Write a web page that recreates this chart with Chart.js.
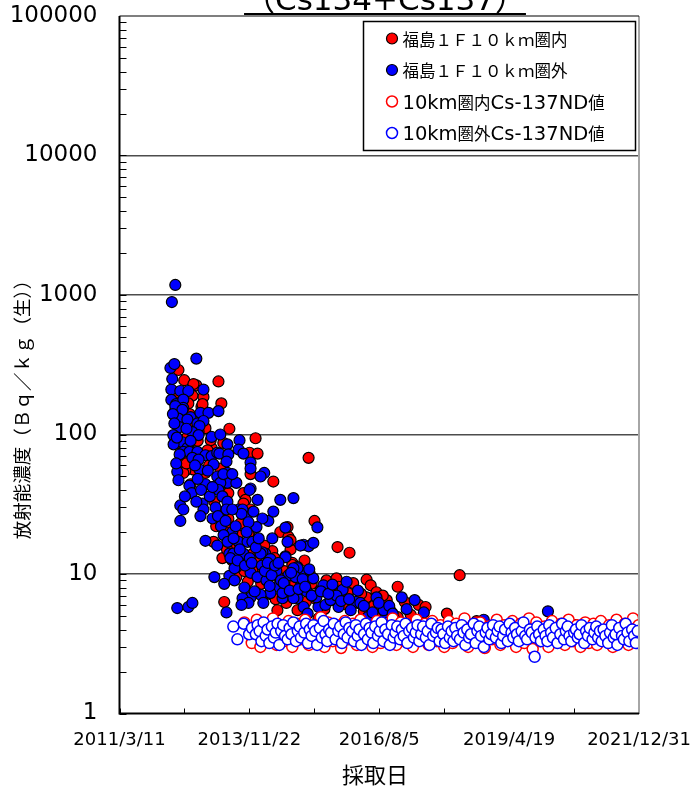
<!DOCTYPE html>
<html lang="ja">
<head>
<meta charset="utf-8">
<title>放射能濃度</title>
<script src="https://cdn.jsdelivr.net/npm/chart.js@4.4.0/dist/chart.umd.min.js"></script>
<style>
  html, body { margin: 0; padding: 0; background: #fff; }
  #chart { display: block; }
</style>
</head>
<body>
<canvas id="chart" width="692" height="790"></canvas>
<script>
// 軸の目盛り
const xTickDates = ['2011-03-11', '2013-11-22', '2016-08-05', '2019-04-19', '2021-12-31'];
const xTickLabels = ['2011/3/11', '2013/11/22', '2016/8/5', '2019/4/19', '2021/12/31'];
const yTickValues = [1, 10, 100, 1000, 10000, 100000];
const seriesLabels = ['福島１Ｆ１０ｋｍ圏内', '福島１Ｆ１０ｋｍ圏外', '10km圏内Cs-137ND値', '10km圏外Cs-137ND値'];

// 10km圏内 (検出値) [採取日, Bq/kg]
const inner10km = [
  ['2012-06-01',290],['2012-07-15',245],['2013-04-01',240],['2012-10-15',225],['2012-09-23',230],
  ['2012-12-08',186],['2012-09-15',190],['2012-08-15',167],['2012-11-23',158],['2013-04-23',167],
  ['2012-07-08',192],['2012-06-15',170],['2012-05-08',150],['2012-12-01',165],
  ['2012-12-23',111],['2013-06-23',110],['2014-01-08',94],['2013-05-08',87],['2013-02-08',80],
  ['2013-11-23',74],['2014-01-23',73],['2012-07-08',66],['2012-09-23',56],['2012-12-23',53],
  ['2012-09-15',75],['2012-08-08',96],['2012-11-01',105],['2013-02-01',91],['2013-01-08',77],
  ['2012-07-23',55],['2012-07-08',53],['2013-10-08',38],['2013-10-23',34],['2013-05-08',45],
  ['2013-04-15',57],['2014-05-23',46],['2015-02-15',68],['2013-12-01',52],['2013-06-15',38],
  ['2013-10-08',32],['2013-12-01',29],['2013-06-15',25],['2013-07-01',21],['2015-04-01',24],
  ['2015-09-23',15.6],['2015-12-23',14.2],['2014-07-15',20],['2014-09-15',18.5],['2014-09-08',21.7],
  ['2014-10-01',15],['2014-05-15',14.6],['2013-12-01',18.4],['2013-11-15',19.5],['2014-10-01',17.5],
  ['2013-02-23',17],['2013-03-15',22],['2013-08-01',16],['2013-09-15',23],['2013-05-01',13],
  ['2013-08-15',9.5],['2013-11-01',12],['2014-02-01',11],['2014-03-15',16],['2014-06-01',13],
  ['2014-08-15',10.5],['2015-01-15',12.5],['2014-10-15',12],['2014-04-15',9.5],['2014-07-01',9.5],
  ['2014-10-01',8],['2013-05-15',6.3],['2014-11-23',5.5],['2014-06-23',5.5],['2014-10-15',11.6],
  ['2015-02-23',10.1],['2015-07-01',9],['2015-09-15',9.3],['2015-10-01',8.1],['2015-04-01',6.7],
  ['2015-08-23',6.5],['2016-02-23',6.2],['2016-05-01',9.1],['2016-06-01',8.3],['2016-07-15',7.4],
  ['2016-05-01',6.8],['2016-12-23',8.1],['2016-10-01',6.5],['2016-08-15',5.8],['2017-06-01',6],
  ['2017-07-23',5.8],['2018-01-01',5.2],['2016-12-23',4.9],['2016-07-08',4.9],['2015-05-01',4.8],
  ['2018-04-08',9.8],['2018-08-15',4.6],['2019-05-01',4.4],['2020-09-01',4.3],
  ['2012-05-20',200],['2012-06-20',130],['2012-08-25',140],['2012-10-01',120],['2012-10-25',90],
  ['2012-08-01',62],['2012-11-10',70],['2012-06-25',85],['2012-09-01',44],
  ['2013-01-20',60],['2013-02-15',42],['2013-03-01',33],['2013-04-05',28],['2013-05-20',20],
  ['2013-06-05',15],['2013-07-15',12.5],['2013-08-25',19],['2013-09-05',13.5],['2013-10-15',10.5],
  ['2013-11-10',8.8],['2013-12-20',14],['2014-01-15',12.8],['2014-02-20',8.5],['2014-03-05',10.8],
  ['2014-04-25',7.2],['2014-05-05',10.9],['2014-06-10',6.6],['2014-07-25',7.8],['2014-08-30',6.2],
  ['2014-09-20',9.2],['2014-11-05',8.6],['2014-12-05',10.5],['2015-01-25',6.3],['2015-03-10',8.5],
  ['2015-05-15',7.6],['2015-06-15',5.6],['2015-08-01',7.9],['2015-11-15',6.1],['2015-12-10',7.3],
  ['2016-01-20',8.6],['2016-03-20',7.2],['2016-04-10',5.4],['2016-06-25',5.9],['2016-09-01',7],
  ['2016-11-01',5.4],['2017-02-15',6.3],['2017-04-01',5.1]
];

// 10km圏外 (検出値)
const outer10km = [
  ['2012-04-12',890],['2012-05-08',1180],['2012-04-01',300],['2012-05-01',320],['2012-10-15',350],
  ['2012-04-08',210],['2012-06-15',205],['2012-08-15',205],['2012-12-08',210],
  ['2012-04-08',177],['2012-05-15',165],['2012-07-08',178],['2012-07-08',155],['2012-05-08',160],
  ['2012-07-01',150],['2012-09-01',133],['2012-11-15',143],['2013-01-15',143],['2013-04-01',147],
  ['2012-06-01',130],['2012-08-08',128],['2012-10-23',120],['2012-12-08',125],['2012-06-08',113],
  ['2012-11-08',115],['2012-04-23',99],['2012-09-15',104],['2012-11-01',99],['2013-02-08',96],
  ['2013-04-15',100],['2012-07-01',88],['2013-06-08',85],['2013-09-08',91],['2012-08-08',80],
  ['2013-09-01',78],['2012-07-08',75],['2012-08-23',75],['2012-10-23',75],['2012-12-23',71],
  ['2013-02-08',70],['2013-03-23',74],['2013-04-08',73],['2013-06-15',72],['2013-10-08',73],
  ['2012-09-15',68],['2012-11-01',66],['2013-06-01',64],['2013-12-01',63],['2013-12-01',57],
  ['2012-05-23',54],['2012-06-01',47],['2012-08-23',43],['2012-11-08',56],['2012-12-23',44],
  ['2013-02-23',61],['2013-03-23',50],['2013-06-08',53],['2013-06-08',45],['2013-08-15',45],
  ['2014-03-15',53],['2013-04-15',45],['2013-05-08',52],['2013-07-15',52],['2013-12-01',41],
  ['2014-02-15',50],['2013-04-01',40],['2013-05-01',36],['2013-06-08',33],['2013-11-23',40],
  ['2012-06-15',31],['2012-07-08',29],['2012-06-15',24],['2012-12-01',32],['2012-12-08',29],
  ['2012-11-15',26],['2013-02-15',25],['2013-06-01',29],['2013-09-01',29],['2013-11-08',27],
  ['2013-12-23',28],['2014-04-15',24],['2014-05-23',28],['2014-07-15',34],['2014-10-23',35],
  ['2014-01-23',34],['2013-10-01',29],['2013-09-23',27],['2013-07-15',29],['2014-03-01',25],
  ['2014-01-15',21.7],['2013-11-15',23.5],['2012-12-23',17.3],['2013-03-23',16],['2013-06-23',14],
  ['2013-07-23',14],['2013-10-08',14],['2013-09-01',17],['2013-07-15',20],['2013-11-08',17],
  ['2013-12-15',17],['2014-03-23',14],['2014-03-01',14.3],['2014-05-15',18],['2014-08-23',21.5],
  ['2014-08-23',13.4],['2014-09-08',17],['2014-11-23',11.2],['2013-08-15',11.2],['2015-01-08',16.2],
  ['2015-02-15',15.8],['2015-03-23',16.7],['2014-12-15',16],['2015-04-23',21.6],['2013-06-23',9.7],
  ['2013-12-01',10.2],['2014-01-23',9.5],['2014-02-15',14],['2014-05-01',12.8],['2013-08-01',11],
  ['2015-01-01',10],['2014-11-23',11],['2014-12-15',9],['2014-06-23',8.1],['2014-05-01',7.3],
  ['2014-02-15',7.1],['2013-12-01',6.8],['2013-10-01',6.7],['2013-11-15',6.2],['2013-09-23',6],
  ['2013-06-01',5.3],['2014-03-08',6.2],['2014-08-01',6.7],['2014-11-23',6.7],['2015-01-08',5.8],
  ['2015-02-08',5.2],['2012-05-23',5.7],['2012-08-15',5.8],['2012-09-15',6.2],['2013-03-01',9.5],
  ['2013-05-15',8.5],['2013-08-01',9],['2013-10-15',8],['2014-01-01',7.5],['2014-04-01',9],
  ['2014-06-15',10.5],['2014-09-15',9.8],['2014-08-23',13.2],['2014-10-23',11],['2014-11-08',9.5],
  ['2015-01-01',9.2],['2015-03-23',9.3],['2015-06-08',8.3],['2015-11-01',7.7],['2015-12-01',8.8],
  ['2014-08-01',7.3],['2014-10-23',6.7],['2015-05-01',5.8],['2015-06-23',6],['2015-10-01',5.8],
  ['2016-02-08',6.3],['2016-05-08',4.9],['2016-09-23',5.3],['2016-09-08',5.5],['2017-01-23',6.8],
  ['2017-05-01',6.5],['2015-02-01',7.5],['2015-04-15',6.8],['2015-08-01',6.5],['2015-09-15',7],
  ['2016-01-01',5.5],['2016-03-15',6.2],['2016-06-15',5.3],['2016-07-15',6.8],['2016-12-01',4.7],
  ['2017-09-08',4.5],['2018-05-15',4.6],['2018-10-08',4.7],['2019-02-01',4.4],['2019-08-15',4.5],
  ['2020-02-08',5.4],
  ['2012-04-15',250],['2012-04-20',140],['2012-05-01',120],['2012-04-25',85],['2012-05-20',95],
  ['2012-06-10',72],['2012-05-15',62],['2012-08-01',110],['2012-09-01',90],['2012-10-05',60],
  ['2012-10-25',48],['2012-09-10',38],['2012-10-15',33],['2012-11-20',40],['2012-07-20',36],
  ['2013-01-10',55],['2013-01-25',36],['2013-02-15',42],['2013-03-10',30],['2013-03-28',26],
  ['2013-04-20',22],['2013-05-10',19],['2013-05-25',24],['2013-06-10',17],['2013-07-01',13],
  ['2013-07-25',18],['2013-08-10',22],['2013-08-25',12.5],['2013-09-10',15],['2013-10-20',11.5],
  ['2013-11-01',20],['2013-11-25',13],['2013-12-10',12],['2014-01-10',15.5],['2014-02-01',18],
  ['2014-02-25',11.5],['2014-03-20',10.5],['2014-04-10',12],['2014-04-25',8.2],['2014-05-10',9.8],
  ['2014-06-05',11.5],['2014-07-01',12],['2014-07-20',9],['2014-08-10',8.6],['2014-09-25',7.6],
  ['2014-10-05',10.2],['2014-12-01',7.8],['2015-01-20',8.1],['2015-02-20',10.8],['2015-03-10',7],
  ['2015-05-20',7.5],['2015-07-15',7.2],['2015-08-15',8.4],['2015-10-20',6.4],['2015-12-20',6.6],
  ['2016-02-25',7.6],['2016-04-10',5.9],['2016-08-01',6.2],['2016-10-20',5.9],['2016-11-15',5.2],
  ['2017-03-01',5.6],['2017-07-10',5.3]
];

// 10km圏内 Cs-137 ND値
const inner10kmND = [
  ['2013-10-15',4.5],['2013-12-10',3.2],
  ['2014-01-17',4.7],['2014-02-14',3.0],['2014-03-18',4.3],['2014-04-16',3.5],['2014-05-20',4.8],['2014-06-17',3.1],
  ['2014-07-15',4.1],['2014-08-12',3.3],['2014-09-16',4.6],['2014-10-14',3.0],['2014-11-18',4.4],['2014-12-16',3.4],
  ['2015-01-20',4.7],['2015-02-17',3.1],['2015-03-17',4.2],['2015-04-14',3.6],['2015-05-19',4.9],['2015-06-16',3.0],
  ['2015-07-14',4.5],['2015-08-18',3.3],['2015-09-15',4.3],['2015-10-20',2.95],['2015-11-17',4.6],['2015-12-15',3.4],
  ['2016-01-19',4.4],['2016-02-16',3.1],['2016-03-15',4.7],['2016-04-19',3.5],['2016-05-17',4.2],['2016-06-14',3.0],
  ['2016-07-19',4.6],['2016-08-16',3.2],['2016-09-13',4.3],['2016-10-18',3.4],['2016-11-15',4.8],['2016-12-13',3.1],
  ['2017-01-17',4.5],['2017-02-14',3.3],['2017-03-14',4.2],['2017-04-18',3.0],['2017-05-16',4.7],['2017-06-13',3.4],
  ['2017-07-18',4.4],['2017-08-15',3.1],['2017-09-12',4.6],['2017-10-17',3.3],['2017-11-14',4.3],['2017-12-12',3.0],
  ['2018-01-16',4.6],['2018-02-13',3.2],['2018-03-13',4.4],['2018-04-17',3.5],['2018-05-15',4.8],['2018-06-12',3.0],
  ['2018-07-17',4.3],['2018-08-14',3.3],['2018-09-11',4.5],['2018-10-16',2.95],['2018-11-13',4.2],['2018-12-11',3.4],
  ['2019-01-15',4.7],['2019-02-12',3.1],['2019-03-12',4.3],['2019-04-16',3.4],['2019-05-14',4.6],['2019-06-11',3.0],
  ['2019-07-16',4.4],['2019-08-13',3.2],['2019-09-17',4.8],['2019-10-15',2.9],['2019-11-12',4.5],['2019-12-10',3.3],
  ['2020-01-14',4.2],['2020-02-12',3.0],['2020-03-10',4.6],['2020-04-14',3.4],['2020-05-19',4.4],['2020-06-16',3.1],
  ['2020-07-14',4.7],['2020-08-18',3.3],['2020-09-15',4.3],['2020-10-13',3.0],['2020-11-17',4.5],['2020-12-15',3.2],
  ['2021-01-19',4.4],['2021-02-16',3.1],['2021-03-16',4.6],['2021-04-13',3.4],['2021-05-18',4.3],['2021-06-15',3.0],
  ['2021-07-13',4.7],['2021-08-17',3.3],['2021-09-14',4.4],['2021-10-12',3.1],['2021-11-16',4.8],['2021-12-14',3.5],
  ['2021-12-28',4.3]
];

// 10km圏外 Cs-137 ND値
const outer10kmND = [
  ['2013-07-23',4.2],['2013-08-23',3.4],['2013-10-10',4.4],['2013-11-20',3.7],['2013-12-12',4.1],
  ['2014-01-10',3.7],['2014-01-24',4.3],['2014-02-08',3.9],['2014-02-22',3.3],['2014-03-10',4.5],['2014-03-26',3.6],
  ['2014-04-09',4.0],['2014-04-23',3.2],['2014-05-12',4.2],['2014-05-27',3.5],['2014-06-10',3.8],['2014-06-24',4.4],
  ['2014-07-08',3.1],['2014-07-22',3.9],['2014-08-06',4.3],['2014-08-20',3.6],['2014-09-09',3.4],['2014-09-24',4.1],
  ['2014-10-08',3.7],['2014-10-22',4.5],['2014-11-11',3.3],['2014-11-25',3.9],['2014-12-09',4.2],['2014-12-19',3.5],
  ['2015-01-13',3.8],['2015-01-27',4.4],['2015-02-10',3.2],['2015-02-24',4.0],['2015-03-10',3.6],['2015-03-24',4.3],
  ['2015-04-07',3.9],['2015-04-21',3.1],['2015-05-12',4.1],['2015-05-26',3.5],['2015-06-09',4.6],['2015-06-23',3.7],
  ['2015-07-07',3.3],['2015-07-21',4.0],['2015-08-04',3.8],['2015-08-25',4.4],['2015-09-08',3.4],['2015-09-29',3.9],
  ['2015-10-13',4.2],['2015-10-27',3.2],['2015-11-10',3.7],['2015-11-24',4.5],['2015-12-08',3.5],['2015-12-22',4.1],
  ['2016-01-12',3.9],['2016-01-26',3.3],['2016-02-09',4.3],['2016-02-23',3.6],['2016-03-08',4.0],['2016-03-22',3.1],
  ['2016-04-12',3.7],['2016-04-26',4.4],['2016-05-10',3.4],['2016-05-24',4.1],['2016-06-07',3.8],['2016-06-21',3.2],
  ['2016-07-05',4.2],['2016-07-26',3.6],['2016-08-09',3.9],['2016-08-23',4.5],['2016-09-06',3.3],['2016-09-20',4.0],
  ['2016-10-11',3.7],['2016-10-25',3.1],['2016-11-08',4.3],['2016-11-22',3.5],['2016-12-06',3.8],['2016-12-20',4.2],
  ['2017-01-10',3.4],['2017-01-24',4.0],['2017-02-07',3.6],['2017-02-21',4.4],['2017-03-07',3.2],['2017-03-21',3.9],
  ['2017-04-11',4.1],['2017-04-25',3.5],['2017-05-09',3.8],['2017-05-23',4.3],['2017-06-06',3.3],['2017-06-20',3.7],
  ['2017-07-04',4.2],['2017-07-25',3.5],['2017-08-08',3.9],['2017-08-22',3.1],['2017-09-05',4.4],['2017-09-19',3.6],
  ['2017-10-10',3.8],['2017-10-24',4.1],['2017-11-07',3.3],['2017-11-21',4.0],['2017-12-05',3.7],['2017-12-19',3.2],
  ['2018-01-09',4.2],['2018-01-23',3.5],['2018-02-06',3.9],['2018-02-20',3.3],['2018-03-06',4.1],['2018-03-20',3.6],
  ['2018-04-10',3.4],['2018-04-24',4.3],['2018-05-08',3.8],['2018-05-22',3.1],['2018-06-05',4.0],['2018-06-19',3.5],
  ['2018-07-03',3.7],['2018-07-24',4.4],['2018-08-07',3.2],['2018-08-21',3.9],['2018-09-04',4.2],['2018-09-18',3.6],
  ['2018-10-09',3.0],['2018-10-23',3.8],['2018-11-06',4.1],['2018-11-20',3.4],['2018-12-04',3.7],['2018-12-18',4.3],
  ['2019-01-08',3.5],['2019-01-22',3.9],['2019-02-05',4.2],['2019-02-19',3.2],['2019-03-05',3.6],['2019-03-19',4.0],
  ['2019-04-09',3.3],['2019-04-23',4.4],['2019-05-07',3.8],['2019-05-21',3.5],['2019-06-04',4.1],['2019-06-18',3.7],
  ['2019-07-02',3.3],['2019-07-23',3.9],['2019-08-06',4.5],['2019-08-20',3.6],['2019-09-03',3.4],['2019-09-24',4.0],
  ['2019-10-08',3.8],['2019-10-30',2.55],['2019-11-05',3.5],['2019-11-19',4.2],['2019-12-03',3.7],['2019-12-17',3.3],
  ['2020-01-07',4.0],['2020-01-21',3.6],['2020-02-04',3.3],['2020-02-18',4.3],['2020-03-03',3.8],['2020-03-17',3.5],
  ['2020-04-07',4.1],['2020-04-21',3.2],['2020-05-12',3.7],['2020-05-26',4.4],['2020-06-09',3.4],['2020-06-23',3.9],
  ['2020-07-07',4.2],['2020-07-21',3.6],['2020-08-04',3.3],['2020-08-25',3.8],['2020-09-08',4.0],['2020-09-22',3.5],
  ['2020-10-06',3.7],['2020-10-20',4.3],['2020-11-10',3.2],['2020-11-24',3.9],['2020-12-08',3.6],['2020-12-22',4.1],
  ['2021-01-12',3.4],['2021-01-26',3.8],['2021-02-09',4.2],['2021-02-23',3.5],['2021-03-09',3.9],['2021-03-23',3.3],
  ['2021-04-06',4.0],['2021-04-20',3.6],['2021-05-11',3.2],['2021-05-25',3.8],['2021-06-08',4.3],['2021-06-22',3.5],
  ['2021-07-06',3.7],['2021-07-20',3.1],['2021-08-03',4.1],['2021-08-24',3.6],['2021-09-07',3.4],['2021-09-21',4.4],
  ['2021-10-05',3.8],['2021-10-19',3.3],['2021-11-09',4.0],['2021-11-24',3.6],['2021-12-07',3.2],['2021-12-21',3.9]
];

// 日付を通算日に変換
function toDay(s) {
  const p = s.split('-').map(Number);
  return Date.UTC(p[0], p[1] - 1, p[2]) / 86400000;
}
function toPoints(list) {
  return list.map(r => ({ x: toDay(r[0]), y: r[1] }));
}

const FONT_JP = '"Noto Sans CJK JP", sans-serif';
const FONT_NUM = '"DejaVu Sans", "Noto Sans CJK JP", sans-serif';

// 半角は欧文フォント、全角は和文フォントで描く
function drawMixed(ctx, text, x, y, latinFont, cjkFont) {
  const runs = text.match(/[\x00-\x7f]+|[^\x00-\x7f]+/g) || [];
  runs.forEach(r => {
    ctx.font = /^[\x00-\x7f]/.test(r) ? latinFont : cjkFont;
    ctx.fillText(r, x, y);
    x += ctx.measureText(r).width;
  });
}

// 枠線・内向き目盛り・凡例・タイトル
const framePlugin = {
  id: 'frame',
  afterDraw(chart) {
    const { ctx, chartArea: a, scales: { x, y } } = chart;
    ctx.save();

    // y軸の内向き目盛り
    ctx.strokeStyle = '#000';
    ctx.lineWidth = 1;
    ctx.beginPath();
    for (let i = 0; i < yTickValues.length - 1; i++) {
      for (let m = 1; m <= 9; m++) {
        const py = Math.round(y.getPixelForValue(yTickValues[i] * m)) + 0.5;
        ctx.moveTo(a.left, py);
        ctx.lineTo(a.left + 7, py);
      }
    }
    // x軸の内向き目盛り (主目盛りと中間)
    for (let i = 0; i < xTickDates.length; i++) {
      const d = toDay(xTickDates[i]);
      const list = [d];
      if (i < xTickDates.length - 1) list.push((d + toDay(xTickDates[i + 1])) / 2);
      list.forEach(v => {
        const px = Math.round(x.getPixelForValue(v)) + 0.5;
        ctx.moveTo(px, a.bottom);
        ctx.lineTo(px, a.bottom - 5);
      });
    }
    ctx.stroke();

    // 枠
    ctx.strokeStyle = '#a6a6a6';
    ctx.lineWidth = 2;
    ctx.beginPath();
    ctx.moveTo(a.right, a.top);
    ctx.lineTo(a.right, a.bottom);
    ctx.stroke();
    ctx.strokeStyle = '#000';
    ctx.lineWidth = 1.2;
    ctx.beginPath();
    ctx.moveTo(a.left, a.top);
    ctx.lineTo(a.right, a.top);
    ctx.stroke();
    ctx.lineWidth = 2;
    ctx.beginPath();
    ctx.moveTo(a.left, a.top);
    ctx.lineTo(a.left, a.bottom);
    ctx.lineTo(a.right, a.bottom);
    ctx.stroke();

    // 凡例
    const box = { x: 363.5, y: 21.5, w: 272, h: 129 };
    ctx.fillStyle = '#fff';
    ctx.fillRect(box.x, box.y, box.w, box.h);
    ctx.strokeStyle = '#000';
    ctx.lineWidth = 1.5;
    ctx.strokeRect(box.x, box.y, box.w, box.h);
    ctx.textBaseline = 'alphabetic';
    ctx.textAlign = 'left';
    chart.data.datasets.forEach((ds, i) => {
      const cy = box.y + 17 + i * 31.5;
      ctx.beginPath();
      ctx.arc(box.x + 28.5, cy, ds.pointRadius, 0, Math.PI * 2);
      ctx.fillStyle = ds.backgroundColor;
      ctx.fill();
      ctx.lineWidth = ds.borderWidth;
      ctx.strokeStyle = ds.borderColor;
      ctx.stroke();
      ctx.fillStyle = '#000';
      drawMixed(ctx, ds.label, box.x + 39, cy + 7, '19.5px "DejaVu Sans"', '16.5px ' + FONT_JP);
    });

    // 上部タイトル (上が切れている)
    const title = '（Cs134+Cs137）';
    ctx.font = '31px ' + FONT_NUM;
    ctx.textAlign = 'center';
    ctx.textBaseline = 'alphabetic';
    ctx.fillStyle = '#000';
    ctx.fillText(title, 385, 10);
    const tw = ctx.measureText(title).width;
    ctx.strokeStyle = '#000';
    ctx.lineWidth = 1.8;
    ctx.beginPath();
    ctx.moveTo(385 - tw / 2, 14);
    ctx.lineTo(385 + tw / 2, 14);
    ctx.stroke();

    // 軸タイトル
    ctx.font = '22px ' + FONT_JP;
    ctx.textBaseline = 'middle';
    ctx.fillText('採取日', 375, 775);
    ctx.save();
    ctx.translate(22, 405);
    ctx.rotate(-Math.PI / 2);
    ctx.font = '18.5px ' + FONT_JP;
    ctx.fillText('放射能濃度（Ｂｑ／ｋｇ（生））', 0, 0);
    ctx.restore();

    ctx.restore();
  }
};

const ctx = document.getElementById('chart').getContext('2d');
const chart = new Chart(ctx, {
  type: 'scatter',
  data: {
    datasets: [
      { label: seriesLabels[0], data: toPoints(inner10km), backgroundColor: '#ff0000', borderColor: '#000000',
        borderWidth: 1.2, pointRadius: 5.5, order: 4 },
      { label: seriesLabels[1], data: toPoints(outer10km), backgroundColor: '#0000ff', borderColor: '#000000',
        borderWidth: 1.2, pointRadius: 5.5, order: 3 },
      { label: seriesLabels[2], data: toPoints(inner10kmND), backgroundColor: '#ffffff', borderColor: '#ff0000',
        borderWidth: 1.5, pointRadius: 5.5, order: 2 },
      { label: seriesLabels[3], data: toPoints(outer10kmND), backgroundColor: '#ffffff', borderColor: '#0000ff',
        borderWidth: 1.5, pointRadius: 5.5, order: 1 }
    ]
  },
  options: {
    responsive: false,
    animation: false,
    layout: { padding: { left: 0, right: 53, top: 16, bottom: 0 } },
    plugins: {
      legend: { display: false },
      tooltip: { enabled: false }
    },
    scales: {
      x: {
        type: 'linear',
        min: toDay(xTickDates[0]),
        max: toDay(xTickDates[xTickDates.length - 1]),
        afterBuildTicks: s => { s.ticks = xTickDates.map(d => ({ value: toDay(d) })); },
        afterFit: s => { s.height = 76.5; s.paddingLeft = 0; s.paddingRight = 0; },
        ticks: {
          autoSkip: false, maxRotation: 0, minRotation: 0, padding: 16, color: '#000',
          font: { family: FONT_NUM, size: 18 },
          callback: (v, i) => xTickLabels[i]
        },
        grid: { display: false, drawTicks: false },
        border: { display: false }
      },
      y: {
        type: 'logarithmic',
        min: 1,
        max: 100000,
        afterBuildTicks: s => { s.ticks = yTickValues.map(v => ({ value: v, major: true })); },
        afterFit: s => { s.width = 119.5; s.paddingTop = 0; s.paddingBottom = 0; },
        ticks: {
          padding: 22, color: '#000',
          font: { family: FONT_NUM, size: 23 },
          callback: v => String(v)
        },
        grid: {
          drawTicks: false,
          lineWidth: 1.5,
          color: c => (c.tick && c.tick.value > 1 && c.tick.value < 100000) ? '#4d4d4d' : 'rgba(0,0,0,0)'
        },
        border: { display: false }
      }
    }
  },
  plugins: [framePlugin]
});
</script>
</body>
</html>
